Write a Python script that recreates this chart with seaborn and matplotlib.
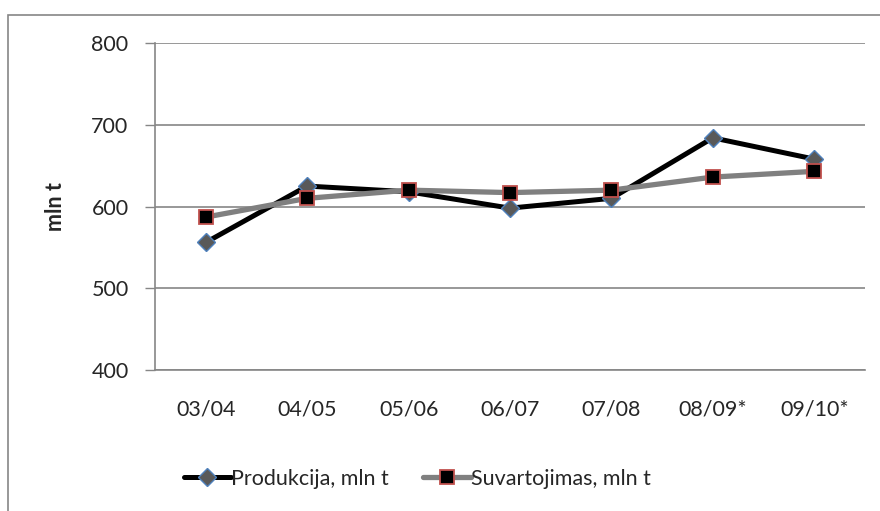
import matplotlib
matplotlib.use("Agg")
import matplotlib.pyplot as plt
from matplotlib.patches import Rectangle
from matplotlib.lines import Line2D
import seaborn as sns
import pandas as pd

seasons = ["03/04", "04/05", "05/06", "06/07", "07/08", "08/09*", "09/10*"]
produkcija = [556, 625, 618, 598, 610, 684, 658]
suvartojimas = [587, 610, 620, 617, 620, 636, 643]
y_ticks = [400, 500, 600, 700, 800]

sns.set_theme(style="white")
plt.rcParams["font.family"] = ["Lato", "DejaVu Sans"]

df = pd.DataFrame({"x": range(len(seasons)), "prod": produkcija, "suv": suvartojimas})

fig = plt.figure(figsize=(8.8, 5.11), dpi=100)
ax = fig.add_axes([155 / 880, 1 - 370 / 511, 710 / 880, 327 / 511])

sns.lineplot(data=df, x="x", y="prod", ax=ax, color="black", linewidth=3.6,
             marker="D", markersize=9, markerfacecolor="#595959",
             markeredgecolor="#4F81BD", markeredgewidth=1.0, zorder=3)
sns.lineplot(data=df, x="x", y="suv", ax=ax, color="#808080", linewidth=3.8,
             marker="s", markersize=10, markerfacecolor="black",
             markeredgecolor="#C0504D", markeredgewidth=1.3, zorder=4)

ax.set_xlim(-0.5, len(seasons) - 0.5)
ax.set_ylim(400, 800)
ax.set_yticks(y_ticks)
ax.set_yticklabels([str(v) for v in y_ticks], fontsize=15.5)
ax.set_xticks(range(len(seasons)))
ax.set_xticklabels(seasons, fontsize=15.5)
ax.set_xticks([i - 0.5 for i in range(len(seasons) + 1)], minor=True)
ax.tick_params(axis="x", which="major", length=0, pad=21)
ax.tick_params(axis="x", which="minor", length=6, width=1, color="#868686", direction="out")
ax.tick_params(axis="y", length=7, width=1, color="#868686", direction="out", pad=12, left=True)

ax.grid(axis="y", color="#868686", linewidth=1.2)
ax.grid(axis="x", visible=False)
for side in ["top", "right"]:
    ax.spines[side].set_visible(False)
for side in ["left", "bottom"]:
    ax.spines[side].set_color("#868686")
    ax.spines[side].set_linewidth(1.2)

ax.set_xlabel("")
ax.set_ylabel("mln t", fontsize=15.5, fontweight="bold", labelpad=18)

handles = [
    Line2D([], [], color="black", linewidth=3.6, marker="D", markersize=9,
           markerfacecolor="#595959", markeredgecolor="#4F81BD"),
    Line2D([], [], color="#808080", linewidth=3.8, marker="s", markersize=10,
           markerfacecolor="black", markeredgecolor="#C0504D", markeredgewidth=1.3),
]
fig.legend(handles, ["Produkcija, mln t", "Suvartojimas, mln t"],
           loc="center", bbox_to_anchor=(417 / 880, 1 - 479 / 511), ncol=2,
           frameon=False, fontsize=15.5, handlelength=2.2, handletextpad=0.0,
           columnspacing=1.6)

fig.patches.append(Rectangle((8 / 880, -0.05), 1.0, 1 - 15 / 511 + 0.05,
                             transform=fig.transFigure, fill=False,
                             edgecolor="#868686", linewidth=1.2))

fig.savefig("out.png", dpi=100, facecolor="white")
